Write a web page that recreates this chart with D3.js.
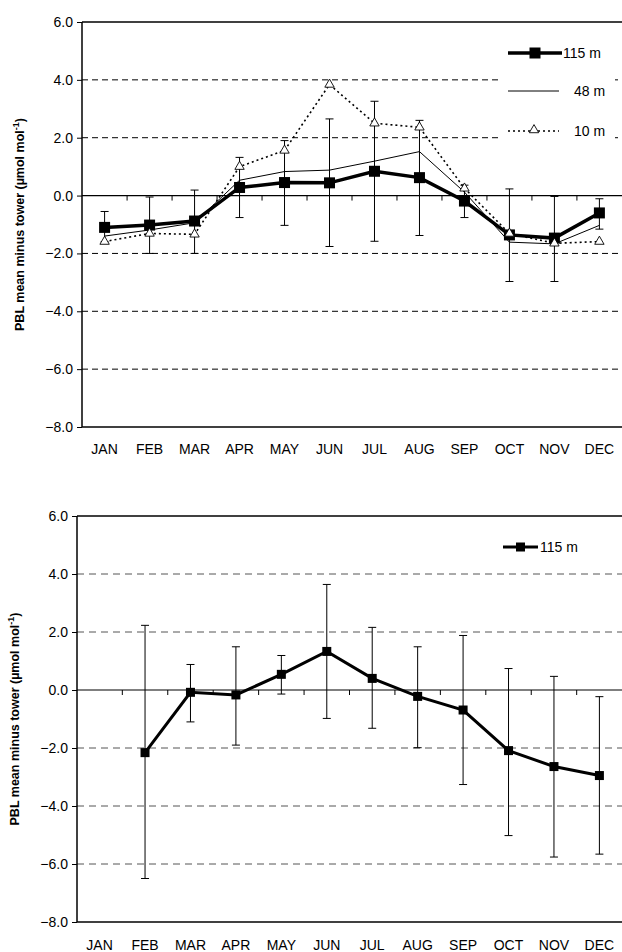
<!DOCTYPE html>
<html><head><meta charset="utf-8">
<script src="https://cdn.jsdelivr.net/npm/d3@7"></script>
<style>body{margin:0;background:#fff}</style>
</head><body>
<script>
var months = ["JAN","FEB","MAR","APR","MAY","JUN","JUL","AUG","SEP","OCT","NOV","DEC"];
var yTicks = [6,4,2,0,-2,-4,-6,-8];

// top panel
var m115 = [-1.1,-1.02,-0.88,0.28,0.45,0.44,0.84,0.62,-0.19,-1.36,-1.47,-0.6];
var m115Hi = [-0.55,-0.05,0.19,1.32,1.9,2.65,3.26,2.6,0.36,0.23,-0.03,-0.11];
var m115Lo = [-1.6,-2.0,-2.0,-0.76,-1.03,-1.76,-1.58,-1.38,-0.76,-2.97,-2.97,-1.16];
var m48 = [-1.4,-1.19,-0.94,0.53,0.83,0.88,1.19,1.52,0.12,-1.61,-1.67,-1.03];
var m10 = [-1.59,-1.31,-1.34,1.0,1.56,3.84,2.5,2.36,0.25,-1.31,-1.65,-1.59];

// bottom panel (JAN missing)
var b115 = [null,-2.16,-0.08,-0.17,0.54,1.33,0.4,-0.22,-0.69,-2.09,-2.64,-2.95];
var b115Hi = [null,2.23,0.88,1.49,1.19,3.64,2.16,1.49,1.88,0.74,0.47,-0.23];
var b115Lo = [null,-6.5,-1.1,-1.9,-0.14,-0.98,-1.32,-1.99,-3.26,-5.02,-5.76,-5.66];

var FONT = "'Liberation Sans', Arial, sans-serif";
var svg = d3.select("body").append("svg").attr("width",622).attr("height",952)
  .style("font-family",FONT);

function panel(o){
  var x = d3.scalePoint().domain(months).range([o.left+22.6, 622-22.6]);
  var y = d3.scaleLinear().domain([-8,6]).range([o.bottom,o.top]);
  var g = svg.append("g");
  // grid
  g.selectAll(".grid").data(yTicks.filter(function(d){return d!==0 && d!==6 && d!==-8;}))
    .enter().append("line").attr("class","grid")
    .attr("x1",o.left).attr("x2",622).attr("y1",y).attr("y2",y)
    .attr("stroke",o.gridColor).attr("stroke-width",1).attr("stroke-dasharray",o.dash);
  g.append("line").attr("x1",o.left).attr("x2",622).attr("y1",y(6)).attr("y2",y(6)).attr("stroke","#000").attr("stroke-width",1.5);
  g.append("line").attr("x1",o.left).attr("x2",622).attr("y1",y(-8)).attr("y2",y(-8)).attr("stroke","#000").attr("stroke-width",1.5);
  // y axis
  var ya = g.append("g").attr("transform","translate("+o.left+",0)")
    .call(d3.axisLeft(y).tickValues(yTicks).tickFormat(d3.format(".1f")).tickSize(5).tickPadding(4));
  ya.attr("font-size",null).attr("font-family",null);
  ya.select(".domain").attr("stroke-width",1.5).attr("d","M0,"+y(6)+"V"+y(-8));
  ya.selectAll("text").style("font-size","14px").style("font-family",FONT);
  // zero line with ticks between categories
  var step = x.step();
  g.append("line").attr("x1",o.left).attr("x2",622).attr("y1",y(0)).attr("y2",y(0)).attr("stroke","#000").attr("stroke-width",1.2);
  g.selectAll(".zt").data(months.slice(1)).enter().append("line")
    .attr("x1",function(d){return x(d)-step/2;}).attr("x2",function(d){return x(d)-step/2;})
    .attr("y1",y(0)).attr("y2",y(0)+5).attr("stroke","#000");
  // month labels
  g.selectAll(".ml").data(months).enter().append("text")
    .attr("x",function(d){return x(d);}).attr("y",o.bottom+o.labelDy)
    .attr("text-anchor","middle").style("font-size","14px").text(function(d){return d;});
  // y title
  g.append("text").attr("transform","translate("+o.titleX+","+y(-1)+") rotate(-90)")
    .attr("text-anchor","middle").style("font-size","12.5px").attr("font-weight","bold")
    .html("PBL mean minus tower  (µmol mol<tspan dy='-5' font-size='9'>-1</tspan><tspan dy='5'>)</tspan>");
  return {x:x,y:y,g:g};
}

function errBars(p, v, hi, lo){
  var idx = d3.range(12).filter(function(i){return v[i]!==null;});
  var e = p.g.append("g").attr("stroke","#000").attr("stroke-width",1);
  idx.forEach(function(i){
    var cx = p.x(months[i]);
    e.append("line").attr("x1",cx).attr("x2",cx).attr("y1",p.y(hi[i])).attr("y2",p.y(lo[i]));
    [hi[i],lo[i]].forEach(function(t){
      e.append("line").attr("x1",cx-4).attr("x2",cx+4).attr("y1",p.y(t)).attr("y2",p.y(t));
    });
  });
}

function lineOf(p, v){
  return d3.line().defined(function(d){return d!==null;})
    .x(function(d,i){return p.x(months[i]);}).y(function(d){return p.y(d);})(v);
}

function squares(p, v, s){
  p.g.selectAll(null).data(v.map(function(d,i){return [i,d];}).filter(function(d){return d[1]!==null;}))
    .enter().append("rect")
    .attr("x",function(d){return p.x(months[d[0]])-s/2;}).attr("y",function(d){return p.y(d[1])-s/2;})
    .attr("width",s).attr("height",s).attr("fill","#000");
}

// ---- top
var p1 = panel({left:82, top:22, bottom:427, dash:"6,4", gridColor:"#000", labelDy:27, titleX:24});
errBars(p1, m115, m115Hi, m115Lo);
p1.g.append("path").attr("d",lineOf(p1,m10)).attr("fill","none").attr("stroke","#000").attr("stroke-width",1.6).attr("stroke-dasharray","2,3");
p1.g.append("path").attr("d",lineOf(p1,m48)).attr("fill","none").attr("stroke","#000").attr("stroke-width",1);
p1.g.append("path").attr("d",lineOf(p1,m115)).attr("fill","none").attr("stroke","#000").attr("stroke-width",3.5);
squares(p1, m115, 11);
p1.g.selectAll(null).data(m10).enter().append("path")
  .attr("d",d3.symbol(d3.symbolTriangle,38))
  .attr("transform",function(d,i){return "translate("+p1.x(months[i])+","+p1.y(d)+")";})
  .attr("fill","#fff").attr("stroke","#000").attr("stroke-width",0.9);

// legend top
var lg = svg.append("g");
lg.append("rect").attr("x",500).attr("y",36).attr("width",115).attr("height",110).attr("fill","#fff");
lg.append("line").attr("x1",508).attr("x2",562).attr("y1",53).attr("y2",53).attr("stroke","#000").attr("stroke-width",3.5);
lg.append("rect").attr("x",529.5).attr("y",47.5).attr("width",11).attr("height",11).attr("fill","#000");
lg.append("text").attr("x",563).attr("y",58).style("font-size","14px").text("115 m");
lg.append("line").attr("x1",508).attr("x2",559).attr("y1",91).attr("y2",91).attr("stroke","#000").attr("stroke-width",1);
lg.append("text").attr("x",574).attr("y",96).style("font-size","14px").text("48 m");
lg.append("line").attr("x1",508).attr("x2",559).attr("y1",131).attr("y2",131).attr("stroke","#000").attr("stroke-width",1.6).attr("stroke-dasharray","2,3");
lg.append("path").attr("d",d3.symbol(d3.symbolTriangle,38)).attr("transform","translate(534,130)").attr("fill","#fff").attr("stroke","#000").attr("stroke-width",0.9);
lg.append("text").attr("x",574).attr("y",136).style("font-size","14px").text("10 m");

// ---- bottom
var p2 = panel({left:77, top:516, bottom:922, dash:"7,5", gridColor:"#555", labelDy:28, titleX:19});
errBars(p2, b115, b115Hi, b115Lo);
p2.g.append("path").attr("d",lineOf(p2,b115)).attr("fill","none").attr("stroke","#000").attr("stroke-width",3);
squares(p2, b115, 9);
var lg2 = svg.append("g");
lg2.append("line").attr("x1",503).attr("x2",538).attr("y1",547).attr("y2",547).attr("stroke","#000").attr("stroke-width",3);
lg2.append("rect").attr("x",516).attr("y",542.5).attr("width",9).attr("height",9).attr("fill","#000");
lg2.append("text").attr("x",540).attr("y",552).style("font-size","14px").text("115 m");
</script>
</body></html>
